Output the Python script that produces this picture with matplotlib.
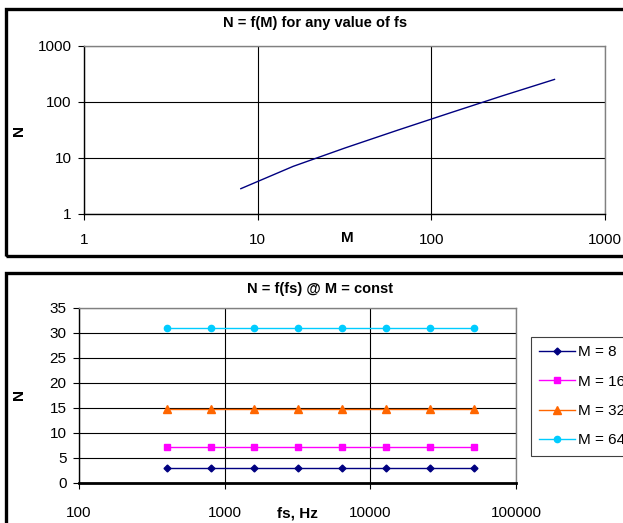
import matplotlib
matplotlib.use("Agg")
import matplotlib.pyplot as plt
from matplotlib.patches import Rectangle
from matplotlib.ticker import FixedLocator, FuncFormatter, NullLocator

plt.rcParams['font.family'] = ['Liberation Sans', 'DejaVu Sans']

# top chart: N as a function of M
m_values = [8, 16, 32, 64, 128, 256, 512]
n_of_m = [2.8, 7, 15, 31, 63, 127, 250]

# bottom chart: N against sampling frequency for fixed M
fs_values = [400, 800, 1600, 3200, 6400, 12800, 25600, 51200]
series_labels = ['M = 8', 'M = 16', 'M = 32', 'M = 64']
n_m8 = [3.0] * 8
n_m16 = [7.2] * 8
n_m32 = [14.8] * 8
n_m64 = [31.0] * 8

W, H = 623, 523
fig = plt.figure(figsize=(W / 100, H / 100), dpi=100)


def fx(px):
    return px / W


def fy(py):
    return 1 - py / H


# chart frames (Excel style borders)
for y0, y1 in [(8.5, 256), (273, 540)]:
    fig.patches.append(Rectangle((fx(6), fy(y1)), fx(640) - fx(6), fy(y0) - fy(y1),
                                 transform=fig.transFigure, fill=False,
                                 edgecolor='black', linewidth=2.4, zorder=0))

intfmt = FuncFormatter(lambda v, p: f"{int(round(v))}")


def style_axes(ax, xpad):
    for side in ['top', 'right']:
        ax.spines[side].set_color('#808080')
        ax.spines[side].set_linewidth(1.0)
    for side in ['left', 'bottom']:
        ax.spines[side].set_color('black')
        ax.spines[side].set_linewidth(1.0)
    ax.tick_params(axis='both', direction='out', length=4, width=0.8, labelsize=11)
    ax.tick_params(axis='y', pad=5)
    ax.tick_params(axis='x', pad=xpad)
    ax.xaxis.set_minor_locator(NullLocator())
    ax.yaxis.set_minor_locator(NullLocator())
    ax.grid(True, color='black', linewidth=0.8)
    ax.set_axisbelow(True)


# --- top chart ---
ax1 = fig.add_axes([fx(84), fy(213.7), fx(605) - fx(84), fy(45.7) - fy(213.7)])
ax1.plot(m_values, n_of_m, color='#000080', linewidth=1.0)
ax1.set_xscale('log')
ax1.set_yscale('log')
ax1.set_xlim(1, 1000)
ax1.set_ylim(1, 1000)
style_axes(ax1, 10)
ax1.xaxis.set_major_locator(FixedLocator([1, 10, 100, 1000]))
ax1.yaxis.set_major_locator(FixedLocator([1, 10, 100, 1000]))
ax1.xaxis.set_major_formatter(intfmt)
ax1.yaxis.set_major_formatter(intfmt)
fig.text(fx(315), fy(23), 'N = f(M) for any value of fs', ha='center', va='center',
         fontsize=10.5, fontweight='bold')
fig.text(fx(347), fy(238), 'M', ha='center', va='center', fontsize=11, fontweight='bold')
fig.text(fx(19), fy(130), 'N', ha='center', va='center', fontsize=11,
         fontweight='bold', rotation=90)

# --- bottom chart ---
ax2 = fig.add_axes([fx(79), fy(482.7), fx(516) - fx(79), fy(307.7) - fy(482.7)])
colors = ['#000080', '#FF00FF', '#FF6600', '#00CCFF']
markers = ['D', 's', '^', 'o']
msizes = [3.5, 4.5, 5.5, 4.5]
for vals, lab, c, mk, ms in zip([n_m8, n_m16, n_m32, n_m64], series_labels,
                                colors, markers, msizes):
    ax2.plot(fs_values, vals, color=c, marker=mk, markersize=ms, linewidth=1.0,
             label=lab, markeredgecolor=c)
ax2.set_xscale('log')
ax2.set_xlim(100, 100000)
ax2.set_ylim(0, 35)
style_axes(ax2, 13)
ax2.spines['bottom'].set_linewidth(2.0)
ax2.xaxis.set_major_locator(FixedLocator([100, 1000, 10000, 100000]))
ax2.xaxis.set_major_formatter(intfmt)
ax2.yaxis.set_major_locator(FixedLocator(list(range(0, 36, 5))))
ax2.yaxis.set_major_formatter(intfmt)
fig.text(fx(320), fy(289), 'N = f(fs) @ M = const', ha='center', va='center',
         fontsize=10.5, fontweight='bold')
fig.text(fx(297), fy(514), 'fs, Hz', ha='center', va='center', fontsize=11,
         fontweight='bold')
fig.text(fx(19), fy(395), 'N', ha='center', va='center', fontsize=11,
         fontweight='bold', rotation=90)

leg = fig.legend(loc='upper left', bbox_to_anchor=(fx(531), fy(337)),
                 bbox_transform=fig.transFigure, fontsize=11, frameon=True,
                 fancybox=False, framealpha=1, borderaxespad=0,
                 handlelength=2.3, labelspacing=1.0, borderpad=0.55,
                 handletextpad=0.25)
leg.get_frame().set_linewidth(0.8)
leg.get_frame().set_facecolor('white')
leg.get_frame().set_edgecolor('#404040')

fig.savefig('out.png', dpi=100)
